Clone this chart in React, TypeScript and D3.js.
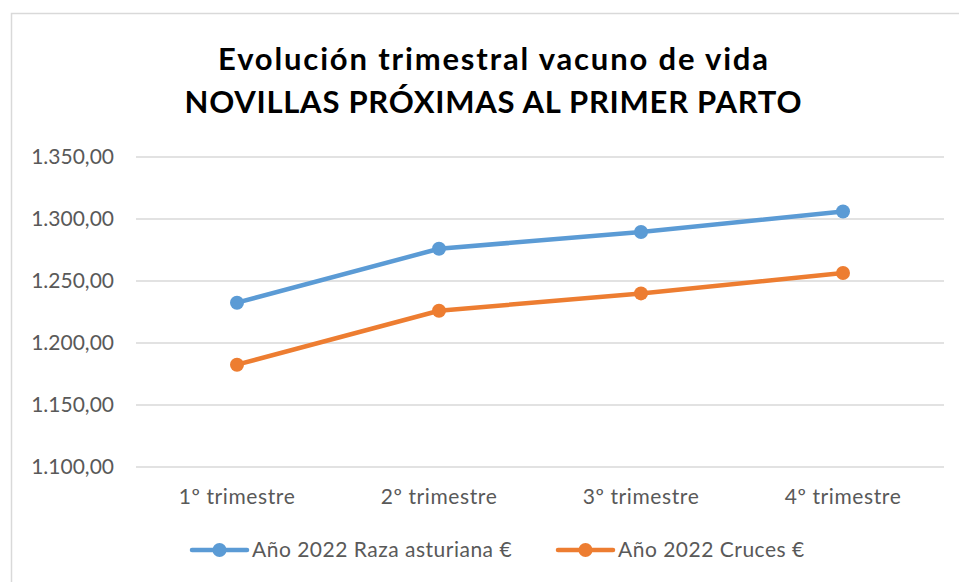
import React, { useEffect, useRef } from 'react';
import * as d3 from 'd3';

const categories = ['1º trimestre', '2º trimestre', '3º trimestre', '4º trimestre'];
const asturiana = [1232.5, 1276, 1289.5, 1306];
const cruces = [1182.5, 1226, 1240, 1256.5];
const yTicks = [1100, 1150, 1200, 1250, 1300, 1350];
const titleLines = ['Evolución trimestral vacuno de vida', 'NOVILLAS PRÓXIMAS AL PRIMER PARTO'];

const series = [
  { name: 'Año 2022 Raza asturiana €', values: asturiana, color: '#5b9bd5' },
  { name: 'Año 2022 Cruces €', values: cruces, color: '#ed7d31' },
];

export default function App() {
  const ref = useRef<SVGSVGElement>(null);

  useEffect(() => {
    const width = 959;
    const height = 582;
    const font = 'Lato, Carlito, Calibri, sans-serif';

    const svg = d3.select(ref.current);
    svg.selectAll('*').remove();

    svg.append('rect') // chart frame
      .attr('x', 11.5)
      .attr('y', 13.5)
      .attr('width', width + 20)
      .attr('height', height + 20)
      .attr('fill', '#fff')
      .attr('stroke', '#d9d9d9')
      .attr('stroke-width', 1.5);

    // title widths (its font is wider than Lato)
    const titleWidths = [550, 617];
    svg.append('g')
      .selectAll('text')
      .data(titleLines)
      .enter()
      .append('text')
      .attr('x', 493)
      .attr('y', (d, i) => 70 + i * 43)
      .attr('text-anchor', 'middle')
      .attr('font-family', font)
      .attr('font-weight', 'bold')
      .attr('font-size', 31)
      .attr('fill', '#000')
      .attr('textLength', (d, i) => titleWidths[i])
      .attr('lengthAdjust', 'spacing')
      .text(d => d);

    const x = d3.scaleBand()
      .domain(categories)
      .range([136, 944]);

    const y = d3.scaleLinear()
      .domain([1100, 1350])
      .range([467, 157]);

    svg.append('g')
      .selectAll('line')
      .data(yTicks)
      .enter()
      .append('line')
      .attr('x1', 136)
      .attr('x2', 944)
      .attr('y1', d => y(d))
      .attr('y2', d => y(d))
      .attr('stroke', '#d9d9d9')
      .attr('stroke-width', 1.3);

    const fmt = (v: number) => d3.format(',.2f')(v).replace(/,/g, '#').replace('.', ',').replace(/#/g, '.');

    svg.append('g')
      .selectAll('text')
      .data(yTicks)
      .enter()
      .append('text')
      .attr('x', 114)
      .attr('y', d => y(d))
      .attr('dy', '0.35em')
      .attr('text-anchor', 'end')
      .attr('font-family', font)
      .attr('font-size', 21)
      .attr('fill', '#595959')
      .text(d => fmt(d));

    svg.append('g')
      .selectAll('text')
      .data(categories)
      .enter()
      .append('text')
      .attr('x', d => (x(d) as number) + x.bandwidth() / 2)
      .attr('y', 497)
      .attr('dy', '0.35em')
      .attr('text-anchor', 'middle')
      .attr('font-family', font)
      .attr('font-size', 21)
      .attr('letter-spacing', 0.6)
      .attr('fill', '#595959')
      .text(d => d);

    const line = d3.line<number>()
      .x((d, i) => (x(categories[i]) as number) + x.bandwidth() / 2)
      .y(d => y(d));

    series.forEach(s => {
      svg.append('path')
        .datum(s.values)
        .attr('d', line)
        .attr('fill', 'none')
        .attr('stroke', s.color)
        .attr('stroke-width', 4.5)
        .attr('stroke-linejoin', 'round')
        .attr('stroke-linecap', 'round');

      svg.append('g')
        .selectAll('circle')
        .data(s.values)
        .enter()
        .append('circle')
        .attr('cx', (d, i) => (x(categories[i]) as number) + x.bandwidth() / 2)
        .attr('cy', d => y(d))
        .attr('r', 7)
        .attr('fill', s.color);
    });

    // legend
    const legendX = [192, 558];
    const legend = svg.append('g')
      .selectAll('g')
      .data(series)
      .enter()
      .append('g')
      .attr('transform', (d, i) => `translate(${legendX[i]}, 550)`);

    legend.append('line')
      .attr('x1', 0)
      .attr('x2', 55)
      .attr('stroke', d => d.color)
      .attr('stroke-width', 4.5)
      .attr('stroke-linecap', 'round');

    legend.append('circle')
      .attr('cx', 27.5)
      .attr('r', 7)
      .attr('fill', d => d.color);

    legend.append('text')
      .attr('x', 60)
      .attr('dy', '0.35em')
      .attr('font-family', font)
      .attr('font-size', 21)
      .attr('letter-spacing', 0.5)
      .attr('fill', '#595959')
      .text(d => d.name);
  }, []);

  return (
    <div style={{ position: 'absolute', left: 0, top: 0 }}>
      <svg ref={ref} width={959} height={582} style={{ display: 'block' }} />
    </div>
  );
}
